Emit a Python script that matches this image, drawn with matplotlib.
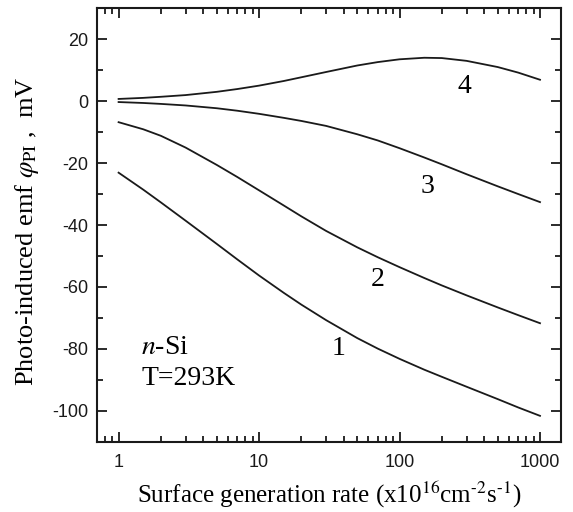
import numpy as np
import matplotlib
matplotlib.use('Agg')
import matplotlib.pyplot as plt
from matplotlib.ticker import LogLocator, MultipleLocator, FixedLocator, FixedFormatter

plt.rcParams['font.family'] = 'Liberation Serif'
plt.rcParams['mathtext.fontset'] = 'stix'
plt.rcParams['axes.unicode_minus'] = False

# generation rate, x10^16 cm^-2 s^-1
rate = [1, 1.5, 2, 3, 5, 7, 10, 15, 20, 30, 50, 70, 100, 150, 200, 300, 500, 700, 1000]

# photo-induced emf, mV
emf_1 = [-23.1, -28.6, -32.7, -38.6, -46.1, -51.1, -56.3, -61.9, -65.7, -70.7, -76.5, -79.9,
         -83.2, -86.7, -89.0, -92.2, -96.2, -98.9, -101.6]
emf_2 = [-6.8, -9.1, -11.2, -15.0, -20.6, -24.5, -28.8, -33.7, -37.2, -41.9, -47.2, -50.4,
         -53.6, -57.1, -59.5, -62.7, -66.6, -69.1, -71.7]
emf_3 = [-0.3, -0.6, -0.9, -1.4, -2.3, -3.1, -4.1, -5.4, -6.4, -8.0, -10.7, -12.7,
         -15.2, -18.2, -20.4, -23.6, -27.5, -30.0, -32.6]
emf_4 = [0.7, 1.05, 1.4, 1.95, 3.0, 3.9, 5.0, 6.5, 7.7, 9.4, 11.5, 12.6,
         13.5, 14.0, 13.9, 13.0, 11.0, 9.2, 6.9]

curves = [emf_1, emf_2, emf_3, emf_4]
curve_names = ['1', '2', '3', '4']
label_x = [37, 70, 158, 290]
label_y = [-80, -57.5, -27.5, 4.8]

fig = plt.figure(figsize=(5.73, 5.12), dpi=100)
ax = fig.add_axes([0.169, 0.137, 0.810, 0.847])

for emf in curves:
    ax.plot(rate, emf, color='#1a1a1a', lw=1.3)

for name, lx, ly in zip(curve_names, label_x, label_y):
    ax.text(lx, ly, name, fontsize=20, ha='center', va='center')

ax.text(1.45, -79.7, r'$\mathit{n}$-Si', fontsize=20, va='center', ha='left')
ax.text(1.45, -89.7, 'T=293K', fontsize=20, va='center', ha='left')

ax.set_xscale('log')
ax.set_xlim(0.7, 1410)
ax.set_ylim(-110, 30)

ax.xaxis.set_major_locator(FixedLocator([1, 10, 100, 1000]))
ax.xaxis.set_major_formatter(FixedFormatter(['1', '10', '100', '1000']))
ax.xaxis.set_minor_locator(LogLocator(base=10, subs=np.arange(2, 10)))
ax.xaxis.set_minor_formatter(plt.NullFormatter())
ax.yaxis.set_major_locator(MultipleLocator(20))
ax.yaxis.set_minor_locator(MultipleLocator(10))

ax.tick_params(which='both', direction='in', top=True, right=True, width=1.3, colors='#1a1a1a')
ax.tick_params(which='major', length=7)
ax.tick_params(which='minor', length=4.5)
ax.tick_params(axis='x', which='major', pad=9)
ax.tick_params(axis='y', which='major', pad=6)
for lab in ax.get_xticklabels() + ax.get_yticklabels():
    lab.set_fontfamily('Liberation Sans')
    lab.set_fontsize(13)
for sp in ax.spines.values():
    sp.set_linewidth(1.5)
    sp.set_color('#1a1a1a')

ax.set_xlabel('Surface generation rate (x10$^{16}$cm$^{\u20102}$s$^{\u20101}$)', fontsize=18, labelpad=6)
ax.set_ylabel(r'Photo-induced emf $\varphi_{\rm PI}$ ,  mV', fontsize=19, labelpad=2)
ax.yaxis.set_label_coords(-0.12, 0.487)

fig.savefig('out.png', dpi=100)
